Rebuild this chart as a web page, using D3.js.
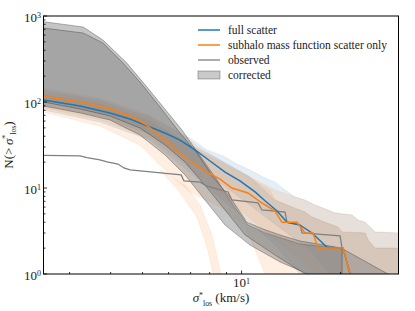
<!DOCTYPE html>
<html>
<head>
<meta charset="utf-8">
<script src="https://cdn.jsdelivr.net/npm/d3@7"></script>
<style>
body { margin: 0; background: #fff; }
svg { display: block; }
</style>
</head>
<body>
<svg id="chart" width="415" height="311"></svg>
<script>
// medians: [sigma (km/s), N(>sigma)]
const fullScatter = [[2.50,105.5],[3.23,89.8],[3.98,74.5],[4.58,63.4],[5.27,51.2],[5.85,43.6],[6.50,36.1],[7.22,27.7],[8.02,20.6],[8.91,15.3],[9.89,12.1],[10.99,9.0],[11.78,7.1],[12.82,5.4],[13.75,4],[15.06,3.7],[16.38,3],[18.19,2.05],[20.35,2],[21.37,1]];
const subhaloOnly = [[2.50,117],[3.23,100],[3.98,82.9],[4.58,68.8],[5.09,55.5],[5.65,40.3],[6.28,28.4],[6.97,20.6],[7.74,15.8],[8.60,12.7],[9.35,10.0],[10.46,8.75],[11.54,6.69],[12.64,5.4],[13.27,4],[14.74,4],[15.59,3],[16.49,3],[17.08,2],[20.35,2],[21.37,1]];
const observed = [[2.50,24],[3.23,23.6],[3.39,22.5],[3.71,21.2],[3.90,20.1],[4.21,19],[4.39,17.1],[4.58,16.2],[6.55,14.2],[6.68,12.1],[7.48,11.7],[7.85,10.5],[9.10,9.0],[9.35,7.25],[11.22,6.7],[11.54,5.55],[13.56,5.26],[13.75,4],[15.06,3.71],[15.27,3],[19.93,2.77],[20.21,2]];

// scatter bands (upper / lower edges)
const fullUpper95 = [[2.50,138],[3.71,105.5],[5.27,66.9],[6.97,38],[7.85,27.7],[8.78,23.6],[9.69,19],[10.61,16.2],[11.62,13.4],[12.64,11.7],[13.56,9.48],[14.54,7.86],[15.59,7.25],[16.72,6.34],[18.32,5.55],[19.24,5.12],[21.67,4.85],[22.60,4.25],[23.74,4],[25.46,3.08],[30,3]];
const fullLower95 = [[2.50,80.7],[3.71,58.5],[5.27,36.1],[6.97,15.3],[8.60,7.65],[10.61,4],[12.64,2.17],[15.06,1],[30,0.5]];
const fullUpper68 = [[2.50,121],[3.71,94.8],[5.27,60.1],[6.97,31.6],[8.60,21.2],[10.61,13.4],[12.64,7.25],[14.23,6.01],[15.59,5.26],[16.38,4.6],[17.94,4],[19.65,3.52],[20.21,3.08],[23.74,3],[24.24,2.48],[25.46,2],[30,2]];
const fullLower68 = [[2.50,92.3],[3.71,68.8],[5.27,42.5],[6.97,21.2],[8.60,11.4],[10.61,6.34],[13.09,3.43],[16.15,1.9],[18.58,1],[30,0.5]];

const subUpper95 = [[2.50,145],[3.71,111],[5.27,70.6],[6.28,47.3],[7.48,29.2],[9.22,18.0],[11.38,11.7],[12.64,9.48],[14.54,7.86],[15.59,7.25],[16.72,6.34],[18.32,5.55],[19.24,5.12],[21.67,4.85],[22.60,4.25],[23.74,4],[25.46,3.08],[30,3]];
const subLower95 = [[2.50,76.5],[3.71,52.6],[4.91,31.6],[5.85,16.2],[6.97,9.0],[8.60,6.0],[10.25,3.7],[11.78,1],[30,0.5]];
const subTail95 = [[5.65,16.2],[6.41,9.48],[7.32,4.6],[7.85,2.06],[8.31,0.8],[8.78,0.8],[8.13,2.84],[7.48,6.34],[6.73,10.8]];
const subUpper68 = [[2.50,131],[3.71,103],[5.27,65.2],[7.48,26.2],[9.89,15.3],[12.20,9.48],[12.64,7.25],[14.23,6.01],[15.59,5.26],[16.38,4.6],[17.94,4],[19.65,3.52],[20.21,3.08],[23.74,3],[24.24,2.48],[25.46,2],[30,2]];
const subLower68 = [[2.50,85.2],[3.71,61.8],[5.27,38.1],[6.50,21.2],[8.02,10.8],[9.89,5.55],[12.20,2.84],[15.06,1.46],[16.72,1],[30,0.5]];

// completeness corrected
const corrOuterUpper = [[2.50,859],[3.30,745],[3.79,526],[4.48,284],[5.16,149],[5.65,97.4],[6.59,47.3],[7.48,23.6],[8.42,12.4],[9.42,6.34],[10.46,3.71],[11.78,3.0],[15.06,2.23],[20.35,1.95],[27.88,1],[30,0.9]];
const corrOuterLower = [[2.50,89.8],[3.23,74.5],[3.98,61.8],[4.91,41.3],[5.85,24.2],[6.73,14.2],[7.74,7.25],[8.91,3.71],[10.61,2.17],[13.09,1.38],[15.92,1],[30,0.5]];
const corrInnerUpper = [[2.50,725],[3.30,634],[3.79,485],[4.36,284],[4.91,171],[5.65,87.5],[6.50,43.6],[7.32,25.5],[8.19,13.4],[9.22,7.86],[10.39,4],[11.62,3.34],[13.09,2.84],[15.06,2.42],[20.21,2],[20.22,0.5]];
const corrInnerLower = [[2.50,100],[3.23,82.9],[3.98,68.8],[4.91,49.9],[5.85,31.6],[6.73,20.1],[7.74,10.8],[8.91,5.55],[10.25,2.84],[12.64,1.66],[15.59,1],[20.22,0.5]];

const xMajor = [10];
const xMinor = [3, 4, 5, 6, 7, 8, 9, 20];
const yMajor = [1, 10, 100, 1000];
const yMinor = [2,3,4,5,6,7,8,9,20,30,40,50,60,70,80,90,200,300,400,500,600,700,800,900];
const legendLabels = ["full scatter", "subhalo mass function scatter only", "observed", "corrected"];

const width = 415;
const height = 311;
const margin = {left: 43.5, right: 16.5, top: 16, bottom: 37};
const blue = "#1f77b4", orange = "#ff7f0e", grey = "#808080";
const serif = "'Liberation Serif', 'DejaVu Serif', serif";

const x = d3.scaleLog().domain([2.5, 30]).range([margin.left, width - margin.right]);
const y = d3.scaleLog().domain([1, 1000]).range([height - margin.bottom, margin.top]);

const svg = d3.select("#chart");

svg.append("clipPath").attr("id", "plot-clip")
    .append("rect")
    .attr("x", margin.left).attr("y", margin.top)
    .attr("width", width - margin.left - margin.right)
    .attr("height", height - margin.top - margin.bottom);

const plot = svg.append("g").attr("clip-path", "url(#plot-clip)");

const line = d3.line().x(d => x(d[0])).y(d => y(d[1]));
const band = (upper, lower) => line(upper.concat(lower.slice().reverse())) + "Z";

// colored scatter bands
[[band(fullUpper95, fullLower95), blue], [band(fullUpper68, fullLower68), blue],
 [band(subUpper95, subLower95), orange], [line(subTail95) + "Z", orange],
 [band(subUpper68, subLower68), orange]].forEach(b => {
    plot.append("path")
        .attr("d", b[0])
        .attr("fill", b[1]).attr("fill-opacity", 0.12)
        .attr("stroke", b[1]).attr("stroke-opacity", 0.12).attr("stroke-width", 0.8);
});

// corrected bands
[[corrOuterUpper, corrOuterLower], [corrInnerUpper, corrInnerLower]].forEach(b => {
    plot.append("path")
        .attr("d", band(b[0], b[1]))
        .attr("fill", grey).attr("fill-opacity", 0.46)
        .attr("stroke", "#000").attr("stroke-opacity", 0.35).attr("stroke-width", 0.8);
});

plot.append("path").attr("d", line(observed))
    .attr("fill", "none").attr("stroke", grey).attr("stroke-width", 1.3);
plot.append("path").attr("d", line(fullScatter))
    .attr("fill", "none").attr("stroke", blue).attr("stroke-width", 1.5);
plot.append("path").attr("d", line(subhaloOnly))
    .attr("fill", "none").attr("stroke", orange).attr("stroke-width", 1.5);

// axes, ticks pointing inward
const x0 = margin.left, x1 = width - margin.right;
const y0 = height - margin.bottom, y1 = margin.top;

const ticks = svg.append("g").attr("stroke", "#000").attr("stroke-width", 0.8);
xMajor.forEach(v => ticks.append("line").attr("x1", x(v)).attr("x2", x(v)).attr("y1", y0).attr("y2", y0 - 3.5));
xMinor.forEach(v => ticks.append("line").attr("x1", x(v)).attr("x2", x(v)).attr("y1", y0).attr("y2", y0 - 2));
yMajor.forEach(v => ticks.append("line").attr("y1", y(v)).attr("y2", y(v)).attr("x1", x0).attr("x2", x0 + 3.5));
yMinor.forEach(v => ticks.append("line").attr("y1", y(v)).attr("y2", y(v)).attr("x1", x0).attr("x2", x0 + 2));

svg.append("rect")
    .attr("x", x0).attr("y", y1).attr("width", x1 - x0).attr("height", y0 - y1)
    .attr("fill", "none").attr("stroke", "#000").attr("stroke-width", 1);

const power = (g, base, exp) => {
    g.append("tspan").text(base);
    g.append("tspan").attr("font-size", "0.62em").attr("dy", "-0.42em").text(exp);
};

yMajor.forEach(v => {
    const t = svg.append("text")
        .attr("x", x0 - 2.5).attr("y", y(v) + 5.5)
        .attr("text-anchor", "end")
        .attr("font-family", serif).attr("font-size", 13).attr("fill", "#222");
    power(t, "10", String(Math.round(Math.log10(v))));
});
xMajor.forEach(v => {
    const t = svg.append("text")
        .attr("x", x(v)).attr("y", y0 + 13)
        .attr("text-anchor", "middle")
        .attr("font-family", serif).attr("font-size", 13).attr("fill", "#222");
    power(t, "10", String(Math.round(Math.log10(v))));
});

// sigma*_los with super/subscript
const sigmaLos = (t) => {
    t.append("tspan").attr("font-style", "italic").text("σ");
    t.append("tspan").attr("font-size", "0.6em").attr("dy", -4.5).text("*");
    t.append("tspan").attr("font-size", "0.6em").attr("dx", 0).attr("dy", 8).text("los");
};

const xlab = svg.append("text")
    .attr("x", (x0 + x1) / 2).attr("y", 302)
    .attr("text-anchor", "middle")
    .attr("font-family", serif).attr("font-size", 13).attr("fill", "#222");
sigmaLos(xlab);
xlab.append("tspan").attr("dy", -3.5).text(" (km/s)");

const ylab = svg.append("text")
    .attr("transform", `translate(12.5,${(y0 + y1) / 2}) rotate(-90)`)
    .attr("text-anchor", "middle")
    .attr("font-family", serif).attr("font-size", 13).attr("fill", "#222");
ylab.append("tspan").text("N(>\u2009");
sigmaLos(ylab);
ylab.append("tspan").attr("dy", -3.5).text(")");

// legend
const legend = svg.append("g")
    .attr("font-family", serif).attr("font-size", 11.5).attr("fill", "#222");
const legendRows = [30, 45, 60, 75];
[blue, orange, grey].forEach((c, i) => {
    legend.append("line")
        .attr("x1", 198).attr("x2", 220).attr("y1", legendRows[i]).attr("y2", legendRows[i])
        .attr("stroke", c).attr("stroke-width", i < 2 ? 1.5 : 1.3);
});
legend.append("rect")
    .attr("x", 198).attr("y", 71).attr("width", 22).attr("height", 8)
    .attr("fill", grey).attr("fill-opacity", 0.42)
    .attr("stroke", "#000").attr("stroke-opacity", 0.35).attr("stroke-width", 0.8);
legendLabels.forEach((s, i) => {
    legend.append("text").attr("x", 228).attr("y", legendRows[i] + 3.5).text(s);
});
</script>
</body>
</html>
